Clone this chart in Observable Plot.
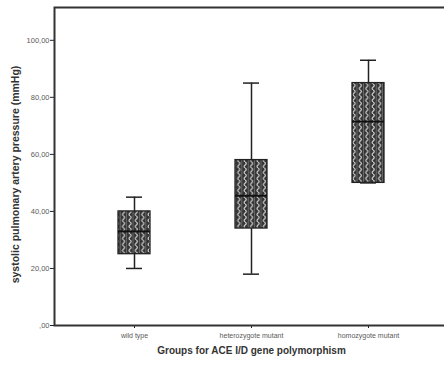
<!DOCTYPE html>
<html><head><meta charset="utf-8">
<script src="https://cdn.jsdelivr.net/npm/d3@7"></script>
<script src="https://cdn.jsdelivr.net/npm/@observablehq/plot@0.6"></script>
<style>html,body{margin:0;padding:0;overflow:hidden;background:#fff}</style>
</head><body><div id="chart"></div>
<script>
const groups = ["wild type", "heterozygote mutant", "homozygote mutant"];
const minVals = [20, 18, 50];
const q1Vals = [25, 34, 50];
const medians = [33, 45.5, 71.5];
const q3Vals = [40, 58, 85];
const maxVals = [45, 85, 93];
const yTicks = [0, 20, 40, 60, 80, 100];
const yLabel = "systolic pulmonary artery pressure (mmHg)";
const xLabel = "Groups for ACE I/D gene polymorphism";

const data = groups.map((g, i) => ({group: g, min: minVals[i], q1: q1Vals[i], med: medians[i], q3: q3Vals[i], max: maxVals[i]}));

const plot = Plot.plot({
  width: 444, height: 365,
  marginLeft: 54, marginRight: -4, marginTop: 7, marginBottom: 40,
  style: {fontFamily: "'Liberation Sans', Arial, sans-serif", background: "#fff"},
  x: {domain: groups, paddingInner: 0.729, paddingOuter: 0.534, label: null},
  y: {domain: [0, 111.5], label: null},
  marks: [
    Plot.ruleX(data, {x: "group", y1: "q3", y2: "max", stroke: "#222", strokeWidth: 1.5}),
    Plot.ruleX(data, {x: "group", y1: "min", y2: "q1", stroke: "#222", strokeWidth: 1.5}),
    Plot.tickY(data, {x: "group", y: "max", insetLeft: 8, insetRight: 8, stroke: "#222", strokeWidth: 1.5}),
    Plot.tickY(data, {x: "group", y: "min", insetLeft: 8, insetRight: 8, stroke: "#222", strokeWidth: 1.5}),
    Plot.barY(data, {x: "group", y1: "q1", y2: "q3", fill: "url(#wave)", stroke: "#222", strokeWidth: 1.3}),
    Plot.tickY(data, {x: "group", y: "med", stroke: "#111", strokeWidth: 2}),
    Plot.axisY({ticks: yTicks, tickFormat: d => d === 0 ? ",00" : d + ",00", tickSize: 4, tickPadding: 1, fontSize: 7.5, fill: "#5a5a5a", stroke: "#222", label: null}),
    Plot.axisX({tickSize: 3, tickPadding: 5, fontSize: 7, fill: "#5a5a5a", stroke: "#222", label: null, style: {letterSpacing: "0.5px"}}),
    Plot.frame({stroke: "#333", strokeWidth: 2}),
    Plot.text([yLabel], {frameAnchor: "left", textAnchor: "middle", dx: -39, dy: 8, rotate: -90, fontWeight: "bold", fontSize: 10.5, fill: "#333", style: {letterSpacing: "0.3px"}}),
    Plot.text([xLabel], {frameAnchor: "bottom", dy: 25, lineAnchor: "middle", fontWeight: "bold", fontSize: 10, fill: "#333", style: {letterSpacing: "0.5px"}})
  ]
});

const defs = d3.select(plot).insert("defs", ":first-child");
const pat = defs.append("pattern").attr("id", "wave").attr("patternUnits", "userSpaceOnUse").attr("width", 6.4).attr("height", 6);
pat.append("rect").attr("width", 6.4).attr("height", 6).attr("fill", "#353535");
pat.append("path").attr("d", "M2,0 Q4,1.5 2,3 Q0,4.5 2,6").attr("stroke", "#d0d0d0").attr("fill", "none").attr("stroke-width", 1.2);
pat.append("path").attr("d", "M5,0 L5,6").attr("stroke", "#909090").attr("stroke-width", 0.6);
document.getElementById("chart").append(plot);
</script>
</body></html>
